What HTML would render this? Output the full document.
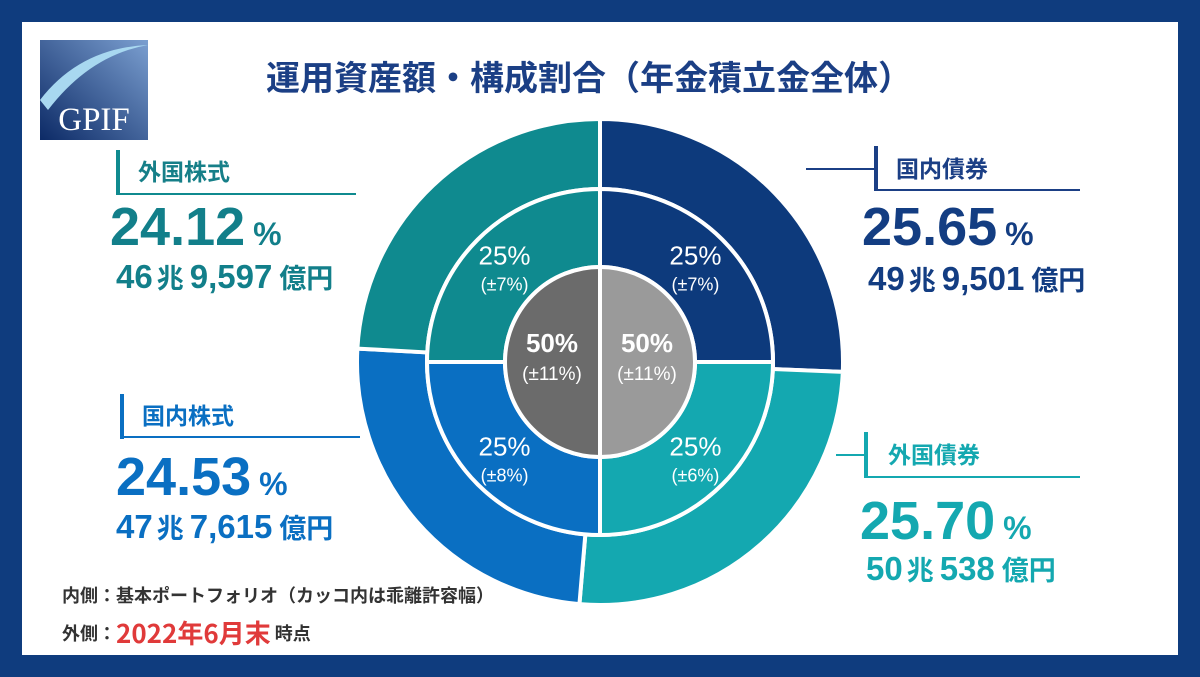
<!DOCTYPE html>
<html><head><meta charset="utf-8"><style>
*{margin:0;padding:0;box-sizing:border-box}
body{width:1200px;height:677px;background:#0f3c7e;position:relative;overflow:hidden;font-family:"Liberation Sans","Noto Sans CJK JP",sans-serif}
#panel{position:absolute;left:22px;top:22px;width:1156px;height:633px;background:#fff}
.abs{position:absolute;white-space:nowrap}
.cat{font-size:23px;font-weight:700;font-family:"Noto Sans CJK JP",sans-serif}
.pct{font-size:54px;font-weight:700;letter-spacing:0px}
.pct small{font-size:32px;margin-left:8px}
.amt{font-size:33px;font-weight:700}
.amt small{font-size:27px;font-family:"Noto Sans CJK JP",sans-serif;margin:0 6px 0 4px}
.amt small.e{margin:0 0 0 7px}
</style></head><body>
<div id="panel"></div>
<svg class="abs" style="left:40px;top:40px" width="108" height="100">
<defs><linearGradient id="lg" x1="0" y1="1" x2="1" y2="0"><stop offset="0" stop-color="#0c2a66"/><stop offset="1" stop-color="#7b9fd0"/></linearGradient></defs>
<rect width="108" height="100" fill="url(#lg)"/>
<path d="M0 60 Q40 8 108 5 Q50 15 8 70 Z" fill="#a8d8f0"/>
<text x="54" y="90" text-anchor="middle" font-family="Liberation Serif,serif" font-size="33" fill="#fff">GPIF</text>
</svg>
<div class="abs" style="left:266px;top:52px;font-size:34px;font-weight:700;color:#1b3f85;font-family:'Noto Sans CJK JP',sans-serif;line-height:48px">運用資産額・構成割合（年金積立金全体）</div>

<svg id="donut" class="abs" style="left:0;top:0" width="1200" height="677"></svg>

<div class="abs" style="left:116px;top:150px;width:4px;height:45px;background:#0f8a8f"></div>
<div class="abs" style="left:116px;top:193px;width:240px;height:2px;background:#0f8a8f"></div>
<div class="abs cat" style="left:138px;top:153px;color:#167f88">外国株式</div>
<div class="abs pct" style="left:110px;top:196px;color:#127f8a">24.12<small>%</small></div>
<div class="abs amt" style="left:116px;top:257px;color:#127f8a">46<small>兆</small>9,597<small class="e">億円</small></div>

<div class="abs" style="left:806px;top:168px;width:72px;height:2px;background:#1b3f85"></div>
<div class="abs" style="left:874px;top:146px;width:4px;height:45px;background:#1b3f85"></div>
<div class="abs" style="left:874px;top:189px;width:206px;height:2px;background:#1b3f85"></div>
<div class="abs cat" style="left:896px;top:150px;color:#1b3f85">国内債券</div>
<div class="abs pct" style="left:862px;top:196px;color:#133d82">25.65<small>%</small></div>
<div class="abs amt" style="left:868px;top:259px;color:#133d82">49<small>兆</small>9,501<small class="e">億円</small></div>

<div class="abs" style="left:120px;top:394px;width:4px;height:45px;background:#0a6fc2"></div>
<div class="abs" style="left:120px;top:436px;width:240px;height:2px;background:#0a6fc2"></div>
<div class="abs cat" style="left:142px;top:397px;color:#0a6fc2">国内株式</div>
<div class="abs pct" style="left:116px;top:446px;color:#0a6fc2">24.53<small>%</small></div>
<div class="abs amt" style="left:116px;top:507px;color:#0a6fc2">47<small>兆</small>7,615<small class="e">億円</small></div>

<div class="abs" style="left:836px;top:454px;width:32px;height:2px;background:#14a8b0"></div>
<div class="abs" style="left:864px;top:432px;width:4px;height:46px;background:#14a8b0"></div>
<div class="abs" style="left:864px;top:476px;width:216px;height:2px;background:#14a8b0"></div>
<div class="abs cat" style="left:888px;top:436px;color:#14a8b0">外国債券</div>
<div class="abs pct" style="left:860px;top:490px;color:#14a8b0">25.70<small>%</small></div>
<div class="abs amt" style="left:866px;top:549px;color:#14a8b0">50<small>兆</small>538<small class="e">億円</small></div>

<div class="abs" style="left:62px;top:582px;font-size:18px;font-weight:700;color:#333;font-family:'Noto Sans CJK JP',sans-serif">内側：基本ポートフォリオ（カッコ内は乖離許容幅）</div>
<div class="abs" style="left:62px;top:614px;font-size:18px;font-weight:700;color:#333;font-family:'Noto Sans CJK JP',sans-serif">外側：<span style="color:#e03a3a;font-size:26px;vertical-align:-3px">2022年6月末</span> 時点</div>

<script>
const categories=["国内債券","外国債券","国内株式","外国株式"];
const outerValues=[25.65,25.70,24.53,24.12];
const innerValues=[25,25,25,25];
const innerLabels=["25%","25%","25%","25%"];
const innerRanges=["(±7%)","(±6%)","(±8%)","(±7%)"];
const colors=["#0d3a7c","#14a8b0","#0a6fc2","#0f8a8f"];
const cx=600,cy=362,R=243,Rm=173,Rc=95;
const svg=document.getElementById('donut');
const NS="http://www.w3.org/2000/svg";
function pt(r,a){return [cx+r*Math.sin(a),cy-r*Math.cos(a)];}
function arc(r0,r1,a0,a1){
  const L=(a1-a0)>Math.PI?1:0;
  const [x0,y0]=pt(r1,a0),[x1,y1]=pt(r1,a1),[x2,y2]=pt(r0,a1),[x3,y3]=pt(r0,a0);
  return `M${x0} ${y0}A${r1} ${r1} 0 ${L} 1 ${x1} ${y1}L${x2} ${y2}A${r0} ${r0} 0 ${L} 0 ${x3} ${y3}Z`;
}
function ring(vals,r0,r1,name){
  const tot=vals.reduce((a,b)=>a+b,0);let a=0;
  vals.forEach((v,i)=>{
    const a1=a+v/tot*2*Math.PI;
    const p=document.createElementNS(NS,'path');
    p.setAttribute('d',arc(r0,r1,a,a1));
    p.setAttribute('fill',colors[i]);p.setAttribute('stroke','#fff');p.setAttribute('stroke-width','4');
    
    
    svg.appendChild(p);a=a1;
  });
}
ring(outerValues,Rm,R,'outer-slice');
ring(innerValues,Rc,Rm,'inner-slice');
[["#6b6b6b",Math.PI,2*Math.PI],["#9a9a9a",0,Math.PI]].forEach(([c,a0,a1],i)=>{
  const p=document.createElementNS(NS,'path');
  const [x0,y0]=pt(Rc,a0),[x1,y1]=pt(Rc,a1);
  p.setAttribute('d',`M${cx} ${cy}L${x0} ${y0}A${Rc} ${Rc} 0 0 1 ${x1} ${y1}Z`);
  p.setAttribute('fill',c);p.setAttribute('stroke','#fff');p.setAttribute('stroke-width','4');
  
  
  svg.appendChild(p);
});
function txt(x,y,s,size,w){
  const t=document.createElementNS(NS,'text');
  t.setAttribute('x',x);t.setAttribute('y',y);t.setAttribute('text-anchor','middle');
  t.setAttribute('font-size',size);t.setAttribute('font-weight',w);t.setAttribute('fill','#fff');
  t.setAttribute('font-family','Liberation Sans, Noto Sans CJK JP, sans-serif');
  t.textContent=s;
  
  
  svg.appendChild(t);
}
let acc=0;const it=innerValues.reduce((a,b)=>a+b,0);
innerValues.forEach((v,i)=>{
  const mid=(acc+v/2)/it*2*Math.PI;acc+=v;
  const [x,y]=pt(135,mid);
  txt(x,y-2,innerLabels[i],26,'400');
  txt(x,y+24,innerRanges[i],18,'400');
});
txt(552,352,"50%",26,'700');txt(552,380,"(±11%)",19,'400');
txt(647,352,"50%",26,'700');txt(647,380,"(±11%)",19,'400');
</script>
</body></html>
